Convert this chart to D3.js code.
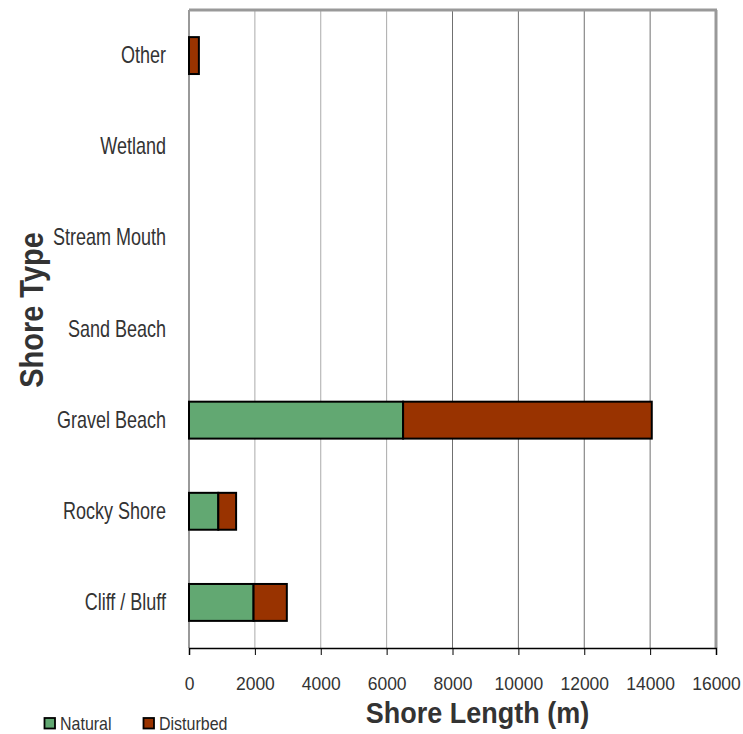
<!DOCTYPE html>
<html><head><meta charset="utf-8">
<script src="https://cdn.jsdelivr.net/npm/d3@7"></script>
<style>body{margin:0;background:#fff;} text{font-family:"Liberation Sans",Arial,sans-serif;}</style>
</head><body>
<svg id="chart" width="743" height="734"></svg>
<script>
const categories = ["Other","Wetland","Stream Mouth","Sand Beach","Gravel Beach","Rocky Shore","Cliff / Bluff"];
const natural =   [0, 0, 0, 0, 6500, 890, 1960];
const disturbed = [300, 0, 0, 0, 7550, 540, 1010];
const seriesNames = ["Natural","Disturbed"];
const colors = ["#62a872","#993300"];
const xTicks = [0,2000,4000,6000,8000,10000,12000,14000,16000];

const svg = d3.select("#chart");
const L = 189, R = 716, T = 10, B = 648;
const x = d3.scaleLinear().domain([0,16000]).range([L,R]);
const y = d3.scaleBand().domain(categories).range([T,B]).paddingInner(0.595).paddingOuter(0.2975);

// gridlines
svg.append("g").selectAll("line").data(xTicks.slice(1,-1)).join("line")
  .attr("x1",d=>x(d)).attr("x2",d=>x(d)).attr("y1",T).attr("y2",B)
  .attr("stroke",d=>d<=6000?"#aaaaaa":"#707070").attr("stroke-width",1);

// frame
svg.append("line").attr("x1",L).attr("x2",R+1).attr("y1",T).attr("y2",T).attr("stroke","#999").attr("stroke-width",3);
svg.append("line").attr("x1",R).attr("x2",R).attr("y1",T).attr("y2",B).attr("stroke","#999").attr("stroke-width",3);
svg.append("line").attr("x1",L).attr("x2",L).attr("y1",T).attr("y2",B).attr("stroke","#999").attr("stroke-width",2);

// stacked bars
const rows = categories.map((c,i)=>({cat:c, Natural:natural[i], Disturbed:disturbed[i]}));
const stack = d3.stack().keys(seriesNames)(rows);
stack.forEach((s,si)=>{
  svg.append("g").selectAll("rect").data(s.filter(d=>d[1]-d[0]>0)).join("rect")
    .attr("x",d=>x(d[0])).attr("width",d=>x(d[1])-x(d[0]))
    .attr("y",d=>y(d.data.cat)).attr("height",y.bandwidth())
    .attr("fill",colors[si]).attr("stroke","#000").attr("stroke-width",2);
});

// x axis
const xAxis = d3.axisBottom(x).tickValues(xTicks).tickFormat(d3.format("d")).tickSize(7);
const gx = svg.append("g").attr("transform",`translate(0,${B})`).call(xAxis);
gx.select(".domain").attr("stroke","#000").attr("stroke-width",1.5);
gx.selectAll(".tick line").attr("stroke","#000");
gx.selectAll(".tick text").attr("y",null).attr("dy",null)
  .attr("transform","translate(0,42.3) scale(1,1.06)")
  .attr("font-size",17.5).attr("fill","#333").attr("font-family","'Liberation Sans',Arial,sans-serif");

// y axis labels
const gy = svg.append("g").attr("transform",`translate(${L},0)`).call(d3.axisLeft(y).tickSize(0));
gy.select(".domain").remove();
gy.selectAll(".tick text").attr("x",null).attr("dy",null)
  .attr("transform","translate(-23,7.5) scale(1,1.3)")
  .attr("font-size",18).attr("fill","#333").attr("font-family","'Liberation Sans',Arial,sans-serif");

// titles
svg.append("text").attr("transform","translate(477.5,722.5) scale(1,1.12)").attr("text-anchor","middle")
  .attr("font-size",27).attr("font-weight","bold").attr("fill","#333").text("Shore Length (m)");
svg.append("text").attr("transform","translate(43,310) rotate(-90) scale(1,1.12)").attr("text-anchor","middle")
  .attr("font-size",29).attr("font-weight","bold").attr("fill","#333").text("Shore Type");

// legend
const leg = svg.append("g");
const legX = [44.5,143.5];
seriesNames.forEach((n,i)=>{
  leg.append("rect").attr("x",legX[i]).attr("y",718).attr("width",10.5).attr("height",10.5)
    .attr("fill",colors[i]).attr("stroke","#000").attr("stroke-width",1.8);
  leg.append("text").attr("transform",`translate(${legX[i]+15.5},729.5) scale(1,1.2)`)
    .attr("font-size",16).attr("fill","#333").text(n);
});
</script>
</body></html>
